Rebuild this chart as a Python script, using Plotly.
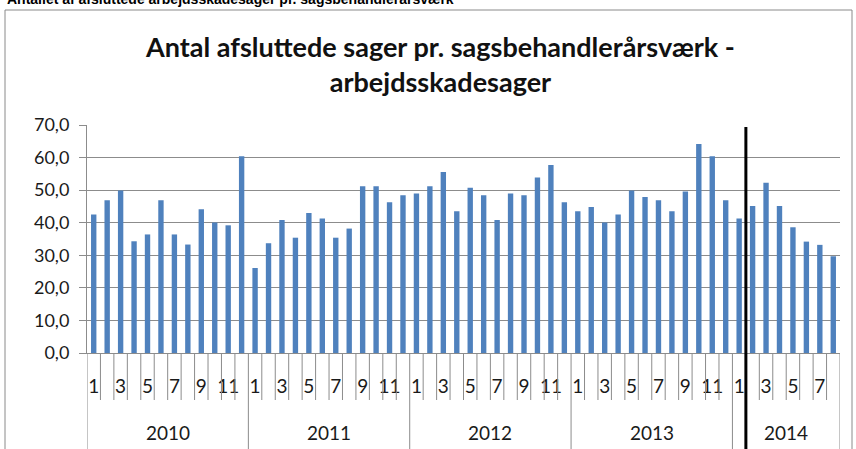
import plotly.graph_objects as go

years = [2010] * 12 + [2011] * 12 + [2012] * 12 + [2013] * 12 + [2014] * 8
months = list(range(1, 13)) * 4 + list(range(1, 9))
values = [
    42.5, 46.9, 49.9, 34.3, 36.4, 46.9, 36.4, 33.3, 44.1, 40.1, 39.2, 60.4,
    26.1, 33.7, 40.8, 35.4, 43.0, 41.3, 35.4, 38.2, 51.2, 51.2, 46.3, 48.4,
    49.0, 51.2, 55.6, 43.5, 50.7, 48.4, 40.8, 49.0, 48.4, 53.9, 57.7, 46.3,
    43.5, 44.8, 40.1, 42.5, 49.9, 47.9, 46.9, 43.5, 49.6, 64.2, 60.4, 46.9,
    41.3, 45.1, 52.3, 45.1, 38.6, 34.2, 33.2, 29.7,
]
categories = [f"{y}-{m:02d}" for y, m in zip(years, months)]
month_labels = [str(m) if m % 2 == 1 else "" for m in months]
year_labels = ["2010", "2011", "2012", "2013", "2014"]
marker_after = "2014-01"  # vertical black marker line after this month

title_text = "Antal afsluttede sager pr. sagsbehandlerårsværk -<br>arbejdsskadesager"
header_text = "Antallet af afsluttede arbejdsskadesager pr. sagsbehandlerårsværk"

FONT = "Lato, Carlito, Open Sans, sans-serif"
GRID = "#8c8c8c"
TXT = "#1a1a1a"

# plot area geometry (pixels)
W, H = 856, 449
L, R, T, B = 87, 16, 125, 96
pw, ph = W - L - R, H - T - B


def px_to_py(py):
    return (H - B - py) / ph


def px_to_px(px):
    return (px - L) / pw


fig = go.Figure(
    go.Bar(x=categories, y=values, marker_color="#4F81BD", marker_line_width=0)
)

shapes = []
n = len(categories)
for i in range(n + 1):
    is_year = i == 0 or i == n or months[i] == 1
    shapes.append(dict(
        type="line", xref="x", yref="paper",
        x0=i - 0.5, x1=i - 0.5, y0=0,
        y1=px_to_py(470) if is_year else px_to_py(400),
        line=dict(color=GRID, width=1),
    ))

mi = categories.index(marker_after) + 0.5
shapes.append(dict(
    type="line", xref="x", yref="paper", x0=mi, x1=mi,
    y0=px_to_py(127), y1=px_to_py(470), line=dict(color="black", width=3),
))
shapes.append(dict(
    type="rect", xref="paper", yref="paper",
    x0=px_to_px(5), x1=px_to_px(852), y0=px_to_py(10), y1=px_to_py(470),
    line=dict(color="#8a8a8a", width=1), layer="below",
))

annotations = []
for yl in year_labels:
    idx = [i for i, y in enumerate(years) if str(y) == yl]
    annotations.append(dict(
        x=(idx[0] + idx[-1]) / 2, xref="x", y=px_to_py(432), yref="paper",
        text=yl, showarrow=False, font=dict(family=FONT, size=19, color=TXT),
        xanchor="center", yanchor="middle",
    ))
annotations.append(dict(
    x=px_to_px(440), xref="paper", y=px_to_py(64), yref="paper",
    text="<b>" + title_text + "</b>", showarrow=False, align="center",
    font=dict(family=FONT, size=27, color="#111"),
    xanchor="center", yanchor="middle",
))
annotations.append(dict(
    x=px_to_px(5), xref="paper", y=px_to_py(-1), yref="paper",
    text="<b>" + header_text + "</b>", showarrow=False,
    font=dict(family="Liberation Sans, Arial, sans-serif", size=14, color="black"),
    xanchor="left", yanchor="middle",
))

fig.update_layout(
    width=W, height=H,
    margin=dict(l=L, r=R, t=T, b=B),
    paper_bgcolor="white", plot_bgcolor="white",
    separators=",.",
    bargap=0.6,
    showlegend=False,
    shapes=shapes,
    annotations=annotations,
    font=dict(family=FONT, size=18, color=TXT),
)
fig.update_xaxes(
    type="category", tickmode="array", tickvals=categories, ticktext=month_labels,
    ticks="", showgrid=False, showline=True, linecolor=GRID, linewidth=1,
    ticklabelstandoff=16, tickfont=dict(family=FONT, size=19, color=TXT),
    range=[-0.5, n - 0.5], tickangle=0,
)
fig.update_yaxes(
    range=[0, 70], dtick=10, tickformat=".1f", showgrid=True, gridcolor=GRID,
    gridwidth=1, showline=True, linecolor=GRID, linewidth=1, ticks="outside",
    ticklen=7, tickcolor=GRID, zeroline=False, ticklabelstandoff=6,
    tickfont=dict(family=FONT, size=18, color=TXT),
)

fig.write_html(
    "out.html",
    config={"displayModeBar": False},
    post_script="document.body.style.margin='0px';",
)
